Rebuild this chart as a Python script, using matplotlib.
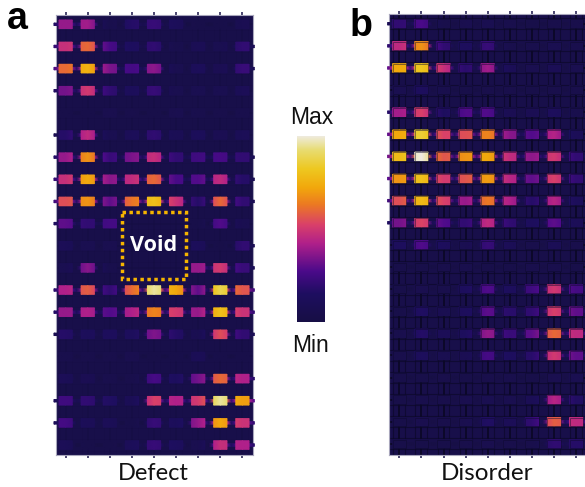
import numpy as np
import matplotlib
matplotlib.use("Agg")
import matplotlib.pyplot as plt
from matplotlib.colors import LinearSegmentedColormap
from matplotlib.patches import Rectangle

# node intensities, 0 = min, 1 = max. None = removed by the void
defect = [
    [.38, .40, .05, .17, .22, .12, .03, .03, .08],
    [.47, .60, .26, .14, .20, .05, .09, .07, .20],
    [.60, .75, .34, .25, .37, .06, .12, .08, .22],
    [.33, .50, .20, .12, .22, .06, .07, .07, .10],
    [.03, .03, .06, .04, .03, .06, .05, .04, .05],
    [.17, .46, .07, .11, .20, .09, .12, .08, .10],
    [.38, .68, .22, .34, .47, .20, .24, .26, .20],
    [.47, .73, .36, .46, .60, .26, .28, .46, .17],
    [.55, .68, .30, .62, .80, .48, .17, .60, .20],
    [.30, .20, .25, None, None, None, .03, .28, .07],
    [.10, .07, .06, None, None, None, .12, .02, .20],
    [.07, .36, .05, None, None, None, .38, .50, .22],
    [.42, .58, .20, .60, .95, .72, .30, .88, .56],
    [.38, .42, .28, .42, .65, .50, .38, .80, .48],
    [.17, .12, .13, .13, .35, .17, .07, .55, .20],
    [.05, .04, .04, .06, .02, .03, .10, .03, .03],
    [.10, .08, .05, .04, .26, .14, .33, .60, .42],
    [.24, .20, .16, .09, .52, .42, .50, .95, .70],
    [.25, .10, .10, .03, .22, .12, .38, .72, .48],
    [.10, .03, .03, .12, .22, .14, .06, .47, .42],
]
disorder = [
    [.20, .27, .04, .06, .07, .05, .03, .04, .04],
    [.45, .68, .20, .13, .22, .05, .05, .07, .05],
    [.72, .82, .47, .18, .40, .10, .06, .09, .06],
    [.06, .14, .05, .03, .04, .04, .03, .04, .04],
    [.40, .52, .14, .28, .28, .08, .08, .13, .05],
    [.72, .85, .52, .55, .65, .36, .28, .43, .10],
    [.78, 1.0, .56, .68, .72, .46, .37, .50, .20],
    [.68, .80, .50, .56, .70, .44, .30, .52, .20],
    [.55, .78, .52, .38, .63, .42, .17, .44, .12],
    [.33, .53, .28, .20, .46, .20, .13, .30, .10],
    [.13, .28, .13, .07, .22, .10, .04, .10, .04],
    [.03, .03, .04, .05, .03, .03, .05, .05, .03],
    [.03, .06, .04, .14, .28, .13, .24, .50, .25],
    [.03, .16, .07, .13, .30, .18, .20, .52, .30],
    [.05, .17, .10, .14, .38, .22, .30, .60, .45],
    [.04, .13, .07, .08, .26, .14, .18, .50, .30],
    [.03, .03, .04, .03, .04, .05, .03, .06, .07],
    [.03, .05, .04, .06, .07, .06, .09, .44, .16],
    [.03, .06, .04, .06, .16, .10, .20, .58, .45],
    [.03, .03, .03, .04, .06, .04, .04, .20, .17],
]

W, H = 585, 487
cmap = LinearSegmentedColormap.from_list("heat", [
    (0.00, "#170f45"), (0.15, "#1e0e60"), (0.27, "#4b0a8a"), (0.42, "#b0208a"),
    (0.52, "#d9406a"), (0.63, "#ec7a22"), (0.72, "#f2a80c"), (0.82, "#eec820"),
    (0.92, "#e8dc70"), (1.00, "#efece4"),
])
bg = cmap(0.03)

fig = plt.figure(figsize=(W / 100, H / 100), dpi=100)


def px_axes(x0, y0, x1, y1):
    return fig.add_axes([x0 / W, 1 - y1 / H, (x1 - x0) / W, (y1 - y0) / H])


def patch(ax, xs, vals, y0, y1, z=3, clip=True):
    # horizontal colour ramp across one strip
    X, Y = np.meshgrid(xs, [y0, y1])
    C = np.array([vals, vals], dtype=float)
    ax.pcolormesh(X, Y, C, shading="gouraud", cmap=cmap, vmin=0, vmax=1, zorder=z,
                  antialiased=True, clip_on=clip)


def draw_panel(ax, grid, xlim, ylim, lattice):
    ax.set_facecolor(bg)
    vals = np.array(grid, dtype=float)
    hw, hh = 0.30, 0.195
    for r in range(vals.shape[0]):
        for c in range(vals.shape[1]):
            v = vals[r, c]
            if np.isnan(v):
                continue
            # little bridge to the next node
            if c < vals.shape[1] - 1:
                nxt = vals[r, c + 1]
                if not np.isnan(nxt):
                    patch(ax, [c + hw, c + 0.5, c + 1 - hw], [v * 0.6, min(v, nxt) * 0.3, nxt * 0.6], r - 0.055, r + 0.055)
            else:
                nxt = v
                # stub past the right edge, only where the node is bright enough to show
                if v > 0.15:
                    patch(ax, [c + hw, 8.54], [v * 0.6, v * 0.4], r - 0.055, r + 0.055, clip=False)
            if c == 0 and v > 0.15:
                patch(ax, [-0.53, -hw], [v * 0.4, v * 0.6], r - 0.055, r + 0.055, clip=False)
            left = vals[r, c - 1] if c > 0 else v
            right = nxt
            left = v if np.isnan(left) else left
            right = v if np.isnan(right) else right
            patch(ax, [c - hw, c, c + hw], [v + 0.12 * (left - v), v, v + 0.12 * (right - v)], r - hh, r + hh, z=4)
            if lattice:
                ax.add_patch(Rectangle((c - hw, r - hh), 2 * hw, 2 * hh, fill=False,
                                       ec="#0d0a2c", lw=0.6, alpha=0.55, zorder=5))
    # the dark mesh lines behind the nodes
    mesh_col = "#0b0828" if lattice else "#140d40"
    mesh_lw = 0.8 if lattice else 0.5
    mesh_a = 0.95 if lattice else 0.4
    for c in range(-1, 10):
        ax.axvline(c, color=mesh_col, lw=mesh_lw + 0.6, alpha=mesh_a, zorder=1)
        for off in (-0.27, 0.27):
            ax.axvline(c + off, color=mesh_col, lw=mesh_lw, alpha=mesh_a * 0.7, zorder=1)
    for r in range(-1, 21):
        for off in (-0.25, 0.25):
            ax.axhline(r + off, color=mesh_col, lw=mesh_lw, alpha=mesh_a * 0.7, zorder=1)
        ax.axhline(r, color=mesh_col, lw=mesh_lw + 0.6, alpha=mesh_a, zorder=1)
    ax.set_xlim(*xlim)
    ax.set_ylim(*ylim)
    ax.set_xticks(range(9))
    ax.set_yticks([])
    ax.tick_params(length=2, width=1.4, color="#4a4570", labelbottom=False, top=True,
                   direction="out", pad=0)
    for s in ax.spines.values():
        s.set_color("#a8a6bc")
        s.set_linewidth(0.8)


ax_a = px_axes(55.5, 15, 253, 455)
draw_panel(ax_a, defect, (-0.46, 8.48), (19.45, -0.42), False)
ax_a.add_patch(Rectangle((2.55, 8.48), 2.9, 3.02, fill=False, ec="#f5b400", lw=2.5,
                         ls=(0, (1, 1)), zorder=6))
ax_a.text(4.0, 10.0, "Void", color="white", fontsize=15.5, fontweight="bold", family="Open Sans",
          ha="center", va="center", zorder=7)

ax_b = px_axes(389, 14, 585, 455)
draw_panel(ax_b, disorder, (-0.467, 8.40), (19.5, -0.44), True)
ax_b.spines["right"].set_visible(False)

ax_c = px_axes(297, 136, 325, 322)
ax_c.imshow(np.linspace(1, 0, 256).reshape(-1, 1), cmap=cmap, aspect="auto", vmin=0, vmax=1)
ax_c.axis("off")

fig.text(312 / W, 1 - 117 / H, "Max", fontsize=16.5, family="Liberation Sans", ha="center", va="center", color="#111111")
fig.text(310 / W, 1 - 346 / H, "Min", fontsize=16.5, family="Liberation Sans", ha="center", va="center", color="#111111")
fig.text(153 / W, 1 - 474 / H, "Defect", fontsize=17, family="Lato", ha="center", va="center", color="#111111")
fig.text(487 / W, 1 - 474 / H, "Disorder", fontsize=17.5, family="Lato", ha="center", va="center", color="#111111")
fig.text(17 / W, 1 - 19 / H, "a", fontsize=27, fontweight="bold", family="Liberation Sans", ha="center", va="center", color="black")
fig.text(361 / W, 1 - 26 / H, "b", fontsize=27, fontweight="bold", family="Liberation Sans", ha="center", va="center", color="black")

fig.savefig("out.png", dpi=100)
